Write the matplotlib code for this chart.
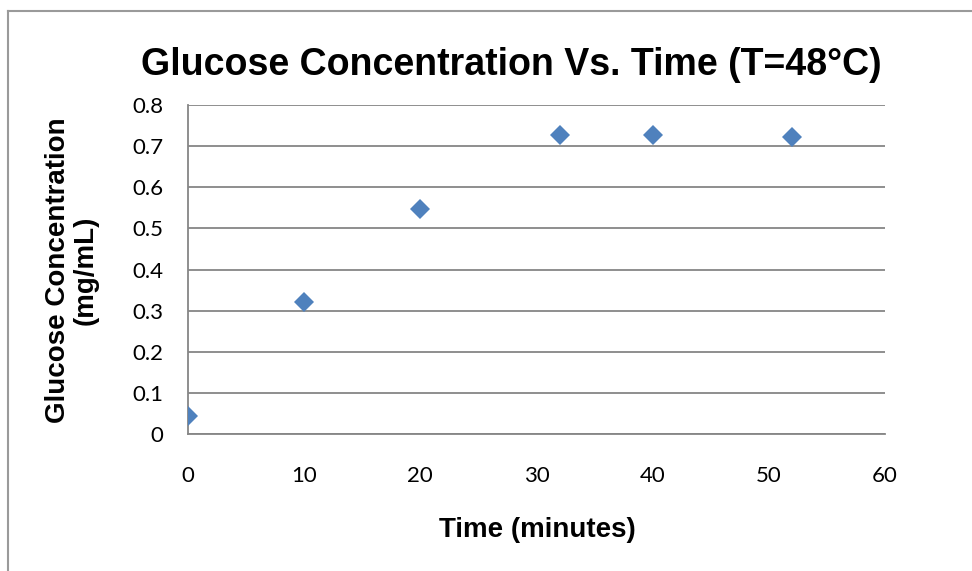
import matplotlib.pyplot as plt
from matplotlib.lines import Line2D

# data
time_min = [0, 10, 20, 32, 40, 52]
glucose = [0.044, 0.321, 0.547, 0.726, 0.726, 0.722]
x_ticks = [0, 10, 20, 30, 40, 50, 60]
y_ticks = [0, 0.1, 0.2, 0.3, 0.4, 0.5, 0.6, 0.7, 0.8]
y_tick_labels = ["0", "0.1", "0.2", "0.3", "0.4", "0.5", "0.6", "0.7", "0.8"]

GRID = "#868686"
BLUE = "#4F81BD"

fig = plt.figure(figsize=(9.72, 5.71), dpi=100)
ax = fig.add_axes([188 / 972, 1 - 434 / 571, 697 / 972, 329 / 571])

ax.plot(time_min, glucose, "D", color=BLUE, markersize=10, markeredgewidth=0, zorder=3)

ax.set_xlim(0, 60)
ax.set_ylim(0, 0.8)
ax.set_xticks(x_ticks)
ax.set_yticks(y_ticks)
ax.set_yticklabels(y_tick_labels)
ax.tick_params(length=0, labelsize=16, labelcolor="black")
ax.tick_params(axis="x", pad=23)
ax.tick_params(axis="y", pad=18)
for lab in ax.get_xticklabels() + ax.get_yticklabels():
    lab.set_fontfamily("Lato")

ax.yaxis.grid(True, color=GRID, linewidth=1.3)
ax.set_axisbelow(True)
for side in ["top", "right"]:
    ax.spines[side].set_visible(False)
for side in ["left", "bottom"]:
    ax.spines[side].set_color(GRID)
    ax.spines[side].set_linewidth(1.3)

fig.text(511 / 972, 1 - 65 / 571, "Glucose Concentration Vs. Time (T=48\u00b0C)",
         ha="center", va="center", fontsize=27, fontweight="bold",
         family="Liberation Sans")
fig.text(537 / 972, 1 - 530 / 571, "Time (minutes)",
         ha="center", va="center", fontsize=20, fontweight="bold",
         family="Liberation Sans")
fig.text(72 / 972, 1 - 270 / 571, "Glucose Concentration\n(mg/mL)",
         ha="center", va="center", rotation=90, fontsize=20, fontweight="bold",
         family="Liberation Sans", linespacing=1.1)

# chart frame (only left and top edges visible in the reference)
fig.add_artist(Line2D([7.5 / 972, 7.5 / 972], [0, 1 - 11 / 571],
                      transform=fig.transFigure, color="#9a9a9a", linewidth=1.5))
fig.add_artist(Line2D([7.5 / 972, 1], [1 - 11 / 571, 1 - 11 / 571],
                      transform=fig.transFigure, color="#9a9a9a", linewidth=1.5))

fig.savefig("out.png", dpi=100)
